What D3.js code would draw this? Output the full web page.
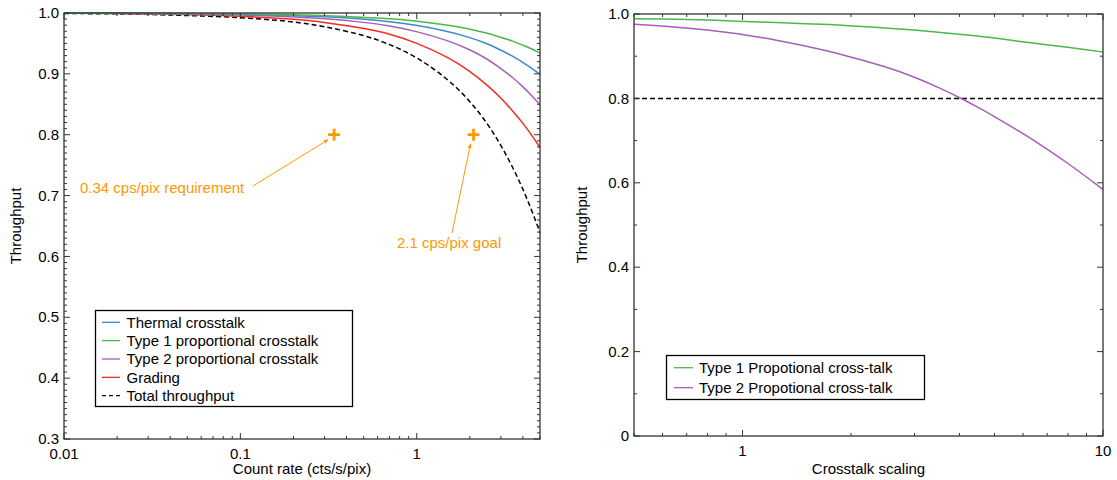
<!DOCTYPE html>
<html>
<head>
<meta charset="utf-8">
<script src="https://cdn.jsdelivr.net/npm/d3@7"></script>
<style>
  html, body { margin: 0; padding: 0; background: #fff; }
  svg { display: block; }
  text { font-family: "Liberation Sans", Arial, Helvetica, sans-serif; fill: #000; }
</style>
</head>
<body>
<svg id="chart" width="1117" height="480"></svg>
<script>
// ---------------- DATA ----------------
const countRate = [0.01, 0.02, 0.05, 0.1, 0.2, 0.3, 0.5, 0.7, 1, 1.5, 2, 2.5, 3, 3.5, 4, 4.5, 5];
const thermal   = [1.000, 1.000, 0.999, 0.998, 0.996, 0.994, 0.990, 0.986, 0.980, 0.970, 0.960, 0.950, 0.939, 0.929, 0.919, 0.909, 0.899];
const type1Prop = [1.000, 1.000, 0.999, 0.999, 0.997, 0.996, 0.993, 0.991, 0.987, 0.980, 0.974, 0.967, 0.960, 0.954, 0.947, 0.941, 0.934];
const type2Prop = [1.000, 0.999, 0.998, 0.997, 0.994, 0.991, 0.985, 0.979, 0.970, 0.955, 0.940, 0.925, 0.909, 0.894, 0.879, 0.864, 0.849];
const grading   = [1.000, 0.999, 0.998, 0.995, 0.990, 0.985, 0.975, 0.966, 0.951, 0.928, 0.905, 0.882, 0.861, 0.839, 0.819, 0.799, 0.779];
const totalThr  = [0.999, 0.999, 0.996, 0.993, 0.986, 0.978, 0.964, 0.949, 0.928, 0.892, 0.856, 0.820, 0.783, 0.747, 0.711, 0.675, 0.639];

const leftSeriesNames = ["Thermal crosstalk", "Type 1 proportional crosstalk", "Type 2 proportional crosstalk", "Grading", "Total throughput"];

const markerRates = [0.34, 2.1];
const markerThroughput = [0.8, 0.8];
const markerLabels = ["0.34 cps/pix requirement", "2.1 cps/pix goal"];

const crosstalkScaling = [0.5, 0.6, 0.7, 0.8, 0.9, 1, 1.25, 1.5, 1.75, 2, 2.5, 3, 3.5, 4, 4.5, 5, 6, 7, 8, 9, 10];
const ctType1 = [0.989, 0.988, 0.987, 0.986, 0.984, 0.982, 0.980, 0.977, 0.975, 0.972, 0.967, 0.962, 0.957, 0.952, 0.948, 0.943, 0.934, 0.927, 0.921, 0.915, 0.910];
const ctType2 = [0.976, 0.972, 0.967, 0.962, 0.957, 0.952, 0.938, 0.924, 0.911, 0.898, 0.875, 0.851, 0.826, 0.802, 0.779, 0.757, 0.717, 0.680, 0.646, 0.614, 0.584];
const requirementLevel = [0.8];
const rightSeriesNames = ["Type 1 Propotional cross-talk", "Type 2 Propotional cross-talk"];

const leftXTicks = [0.01, 0.1, 1];
const leftXTickLabels = ["0.01", "0.1", "1"];
const leftYTicks = [0.3, 0.4, 0.5, 0.6, 0.7, 0.8, 0.9, 1.0];
const leftYTickLabels = ["0.3", "0.4", "0.5", "0.6", "0.7", "0.8", "0.9", "1.0"];
const rightXTicks = [1, 10];
const rightXTickLabels = ["1", "10"];
const rightYTicks = [0, 0.2, 0.4, 0.6, 0.8, 1.0];
const rightYTickLabels = ["0", "0.2", "0.4", "0.6", "0.8", "1.0"];

// ---------------- STYLE ----------------
const C = { blue: "#3b8bc9", green: "#4db848", purple: "#a65fb8", red: "#ee2e24", black: "#000", orange: "#ff9900" };
const FS = 15;

const svg = d3.select("#chart");

// ---------------- HELPERS ----------------
function frame(g, x, y, xMinor, yMinor, xMajor, yMajor) {
  const [x0, x1] = x.range();
  const [y0, y1] = y.range();
  const major = 6, minor = 3;
  const tk = g.append("g").attr("stroke", "#333").attr("stroke-width", 1);
  xMinor.forEach(v => {
    const len = xMajor.includes(v) ? major : minor;
    const px = x(v);
    tk.append("line").attr("x1", px).attr("x2", px).attr("y1", y0).attr("y2", y0 - len);
    tk.append("line").attr("x1", px).attr("x2", px).attr("y1", y1).attr("y2", y1 + len);
  });
  yMinor.forEach(v => {
    const len = yMajor.some(m => Math.abs(m - v) < 1e-9) ? major : minor;
    const py = y(v);
    tk.append("line").attr("x1", x0).attr("x2", x0 + len).attr("y1", py).attr("y2", py);
    tk.append("line").attr("x1", x1).attr("x2", x1 - len).attr("y1", py).attr("y2", py);
  });
  g.append("rect").attr("x", x0).attr("y", y1).attr("width", x1 - x0).attr("height", y0 - y1)
    .attr("fill", "none").attr("stroke", "#333").attr("stroke-width", 1.3);
}

function tickLabels(g, x, y, xt, xl, yt, yl) {
  const [x0] = x.range();
  const [y0] = y.range();
  xt.forEach((v, i) => g.append("text").attr("x", x(v)).attr("y", y0 + 19.5)
    .attr("text-anchor", "middle").attr("font-size", FS).text(xl[i]));
  yt.forEach((v, i) => g.append("text").attr("x", x0 - 5).attr("y", y(v)).attr("dy", "0.34em")
    .attr("text-anchor", "end").attr("font-size", FS).text(yl[i]));
}

// ---------------- LEFT PANEL ----------------
const xL = d3.scaleLog().domain([0.01, 5]).range([64, 540]);
const yL = d3.scaleLinear().domain([0.3, 1.0]).range([439, 13]);
const gL = svg.append("g");

const lineL = d3.line().x(d => xL(d[0])).y(d => yL(d[1])).curve(d3.curveBasis);
const leftSeries = [
  { vals: thermal, color: C.blue, dash: null },
  { vals: type1Prop, color: C.green, dash: null },
  { vals: type2Prop, color: C.purple, dash: null },
  { vals: grading, color: C.red, dash: null },
  { vals: totalThr, color: C.black, dash: "5,3" }
];
[4, 3, 2, 0, 1].forEach(i => {
  const s = leftSeries[i];
  gL.append("path").datum(countRate.map((c, k) => [c, s.vals[k]]))
    .attr("d", lineL).attr("fill", "none").attr("stroke", s.color)
    .attr("stroke-width", 1.5).attr("stroke-dasharray", s.dash);
});

frame(gL, xL, yL, xL.ticks(), d3.range(30, 101).map(v => v / 100), leftXTicks, leftYTicks);
tickLabels(gL, xL, yL, leftXTicks, leftXTickLabels, leftYTicks, leftYTickLabels);

gL.append("text").attr("x", (64 + 540) / 2).attr("y", 474).attr("text-anchor", "middle")
  .attr("font-size", FS).text("Count rate (cts/s/pix)");
gL.append("text").attr("transform", `translate(21,${(13 + 439) / 2}) rotate(-90)`)
  .attr("text-anchor", "middle").attr("font-size", FS).text("Throughput");

// markers + annotations
svg.append("defs").append("marker").attr("id", "arrowO").attr("viewBox", "0 0 10 10")
  .attr("refX", 9).attr("refY", 5).attr("markerWidth", 5).attr("markerHeight", 5)
  .attr("orient", "auto").append("path").attr("d", "M0,1 L10,5 L0,9 Z").attr("fill", C.orange);

markerRates.forEach((r, i) => {
  const px = xL(r), py = yL(markerThroughput[i]);
  gL.append("path").attr("d", `M${px - 6},${py} H${px + 6} M${px},${py - 6} V${py + 6}`)
    .attr("stroke", C.orange).attr("stroke-width", 2.8).attr("fill", "none");
});
{
  const px = xL(markerRates[0]), py = yL(markerThroughput[0]);
  gL.append("text").attr("x", 80).attr("y", 193).attr("font-size", FS)
    .style("fill", C.orange).text(markerLabels[0]);
  gL.append("line").attr("x1", 253).attr("y1", 186).attr("x2", px - 6).attr("y2", py + 5)
    .attr("stroke", C.orange).attr("stroke-width", 1).attr("marker-end", "url(#arrowO)");
}
{
  const px = xL(markerRates[1]), py = yL(markerThroughput[1]);
  gL.append("text").attr("x", 397).attr("y", 248).attr("font-size", FS)
    .style("fill", C.orange).text(markerLabels[1]);
  gL.append("line").attr("x1", 452).attr("y1", 233).attr("x2", px - 3).attr("y2", py + 9)
    .attr("stroke", C.orange).attr("stroke-width", 1).attr("marker-end", "url(#arrowO)");
}

// legend left
{
  const lg = gL.append("g");
  lg.append("rect").attr("x", 95.5).attr("y", 310.5).attr("width", 257).attr("height", 96)
    .attr("fill", "#fff").attr("stroke", "#000").attr("stroke-width", 1.3);
  leftSeriesNames.forEach((name, i) => {
    const cy = 322.3 + i * 18.35;
    const s = leftSeries[i];
    lg.append("line").attr("x1", 102).attr("x2", 120).attr("y1", cy).attr("y2", cy)
      .attr("stroke", s.color).attr("stroke-width", 1.3).attr("stroke-dasharray", s.dash ? "4,3" : null);
    lg.append("text").attr("x", 126.5).attr("y", cy).attr("dy", "0.36em").attr("font-size", FS).text(name);
  });
}

// ---------------- RIGHT PANEL ----------------
const xR = d3.scaleLog().domain([0.5, 10]).range([634, 1103]);
const yR = d3.scaleLinear().domain([0, 1]).range([436, 14]);
const gR = svg.append("g");
const lineR = d3.line().x(d => xR(d[0])).y(d => yR(d[1])).curve(d3.curveBasis);

requirementLevel.forEach(v => {
  gR.append("line").attr("x1", xR(0.5)).attr("x2", xR(10)).attr("y1", yR(v)).attr("y2", yR(v))
    .attr("stroke", "#000").attr("stroke-width", 1.5).attr("stroke-dasharray", "5,3");
});
const rightSeries = [{ vals: ctType1, color: C.green }, { vals: ctType2, color: C.purple }];
rightSeries.forEach(s => {
  gR.append("path").datum(crosstalkScaling.map((c, k) => [c, s.vals[k]]))
    .attr("d", lineR).attr("fill", "none").attr("stroke", s.color).attr("stroke-width", 1.5);
});

frame(gR, xR, yR, xR.ticks(), d3.range(0, 11).map(v => v / 10), rightXTicks, rightYTicks);
tickLabels(gR, xR, yR, rightXTicks, rightXTickLabels, rightYTicks, rightYTickLabels);

gR.append("text").attr("x", (634 + 1103) / 2).attr("y", 474).attr("text-anchor", "middle")
  .attr("font-size", FS).text("Crosstalk scaling");
gR.append("text").attr("transform", `translate(587,${(14 + 436) / 2}) rotate(-90)`)
  .attr("text-anchor", "middle").attr("font-size", FS).text("Throughput");

// legend right
{
  const lg = gR.append("g");
  lg.append("rect").attr("x", 666.5).attr("y", 355.5).attr("width", 258).attr("height", 44)
    .attr("fill", "#fff").attr("stroke", "#000").attr("stroke-width", 1.3);
  rightSeriesNames.forEach((name, i) => {
    const cy = 367.7 + i * 20;
    lg.append("line").attr("x1", 674).attr("x2", 693).attr("y1", cy).attr("y2", cy)
      .attr("stroke", rightSeries[i].color).attr("stroke-width", 1.3);
    lg.append("text").attr("x", 699).attr("y", cy).attr("dy", "0.36em").attr("font-size", FS).text(name);
  });
}
</script>
</body>
</html>
